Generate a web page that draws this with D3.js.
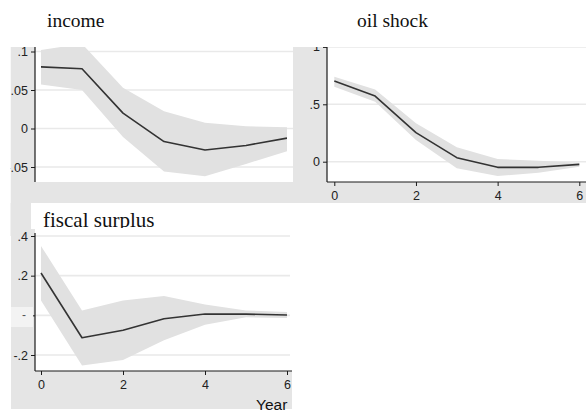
<!DOCTYPE html>
<html>
<head>
<meta charset="utf-8">
<script src="https://cdn.jsdelivr.net/npm/d3@7"></script>
<style>
  html, body { margin: 0; padding: 0; background: #ffffff; }
  svg { display: block; }
</style>
</head>
<body>
<svg id="chart" width="586" height="415"></svg>
<script>
// ---- data ----
const periods = [0, 1, 2, 3, 4, 5, 6];

const incomeIRF   = [0.080, 0.0775, 0.020, -0.017, -0.028, -0.022, -0.0125];
const incomeUpper = [0.102, 0.110, 0.053, 0.0225, 0.0075, 0.003, 0.0017];
const incomeLower = [0.057, 0.050, -0.011, -0.056, -0.062, -0.046, -0.0295];

const oilIRF   = [0.703, 0.572, 0.253, 0.035, -0.049, -0.049, -0.023];
const oilUpper = [0.740, 0.630, 0.334, 0.125, 0.023, 0.009, -0.009];
const oilLower = [0.653, 0.523, 0.189, -0.058, -0.125, -0.096, -0.044];

const fiscalIRF   = [0.2135, -0.113, -0.075, -0.017, 0.007, 0.006, 0.002];
const fiscalUpper = [0.350, 0.025, 0.075, 0.097, 0.055, 0.025, 0.017];
const fiscalLower = [0.075, -0.253, -0.225, -0.125, -0.047, -0.010, -0.013];

const incomeYTicks = [-0.05, 0, 0.05, 0.1];
const incomeYLabels = ["-.05", "0", ".05", ".1"];
const oilYTicks = [0, 0.5, 1];
const oilYLabels = ["0", ".5", "1"];
const fiscalYTicks = [-0.2, 0, 0.2, 0.4];
const fiscalYLabels = ["-.2", "", ".2", ".4"];
const xTicks = [0, 2, 4, 6];
const xTickLabels = ["0", "2", "4", "6"];

const titles = ["income", "oil shock", "fiscal surplus"];
const xAxisTitle = "Year";

// ---- styles ----
const GRAY = "#e5e5e5";
const BAND = "#e1e1e1";
const GRID = "#e9e9e9";
const LINE = "#333333";
const AXIS = "#1a1a1a";
const SANS = "'Liberation Sans', Arial, sans-serif";
const SERIF = "'Liberation Serif', 'Times New Roman', serif";

const svg = d3.select("#chart");
const defs = svg.append("defs");

function clip(id, x, y, w, h) {
  defs.append("clipPath").attr("id", id)
    .append("rect").attr("x", x).attr("y", y).attr("width", w).attr("height", h);
  return "url(#" + id + ")";
}

function drawPanel(o) {
  const g = svg.append("g").attr("clip-path", clip(o.id, o.clip[0], o.clip[1], o.clip[2], o.clip[3]));
  o.grayRects.forEach(r => g.append("rect").attr("x", r[0]).attr("y", r[1]).attr("width", r[2]).attr("height", r[3]).attr("fill", GRAY));
  g.append("rect").attr("x", o.plot[0]).attr("y", o.plot[1]).attr("width", o.plot[2]).attr("height", o.plot[3]).attr("fill", "#fff");

  const x = d3.scaleLinear().domain([0, 6]).range(o.xr);
  const y = d3.scaleLinear().domain(o.yd).range(o.yr);

  g.append("g").selectAll("line").data(o.yTicks).join("line")
    .attr("x1", o.plot[0]).attr("x2", o.plot[0] + o.plot[2] - (o.gridInset || 0))
    .attr("y1", d => y(d)).attr("y2", d => y(d))
    .attr("stroke", GRID).attr("stroke-width", 1.6);

  const area = d3.area().x((d, i) => x(periods[i])).y0((d, i) => y(o.lower[i])).y1((d, i) => y(o.upper[i]));
  g.append("path").datum(o.irf).attr("d", area).attr("fill", BAND);

  const line = d3.line().x((d, i) => x(periods[i])).y(d => y(d));
  g.append("path").datum(o.irf).attr("d", line).attr("fill", "none")
    .attr("stroke", LINE).attr("stroke-width", 1.6).attr("stroke-linejoin", "round");

  const yAxis = d3.axisLeft(y).tickValues(o.yTicks).tickSize(4).tickPadding(3)
    .tickFormat((d, i) => o.yLabels[i]);
  const ya = g.append("g").attr("transform", "translate(" + o.plot[0] + ",0)").call(yAxis);
  ya.select(".domain").attr("d", "M0," + o.yAxisSpan[0] + "V" + o.yAxisSpan[1]).attr("stroke", AXIS).attr("stroke-width", 1.2);
  ya.selectAll(".tick line").attr("stroke", AXIS).attr("stroke-width", 1);
  ya.selectAll(".tick text").attr("font-family", SANS).attr("font-size", 12.5).attr("fill", "#222");

  if (o.xAxis) {
    const xAxis = d3.axisBottom(x).tickValues(xTicks).tickSize(4).tickPadding(5)
      .tickFormat((d, i) => xTickLabels[i]);
    const xa = g.append("g").attr("transform", "translate(0," + o.xAxisY + ")").call(xAxis);
    xa.select(".domain").attr("d", "M" + o.plot[0] + ",0H" + (o.plot[0] + o.plot[2])).attr("stroke", AXIS).attr("stroke-width", 1.2);
    xa.selectAll(".tick line").attr("stroke", AXIS).attr("stroke-width", 1);
    xa.selectAll(".tick text").attr("font-family", SANS).attr("font-size", 12.5).attr("fill", "#222");
  }
  return { g, x, y };
}

// income panel
drawPanel({
  id: "cIncome", clip: [10.5, 47, 282.5, 156],
  grayRects: [[10.5, 47, 283, 156]],
  plot: [35, 47, 258, 135],
  xr: [41, 287], yd: [-0.05, 0.1], yr: [167, 51.5],
  yTicks: incomeYTicks, yLabels: incomeYLabels,
  irf: incomeIRF, upper: incomeUpper, lower: incomeLower,
  yAxisSpan: [47, 182], xAxis: false
});

// oil shock panel
drawPanel({
  id: "cOil", clip: [293, 47, 293, 156],
  grayRects: [[293, 47, 293, 156]],
  plot: [327, 47, 259, 135],
  xr: [334.3, 579.3], yd: [0, 1], yr: [161.7, 46.9],
  yTicks: oilYTicks, yLabels: oilYLabels,
  irf: oilIRF, upper: oilUpper, lower: oilLower,
  yAxisSpan: [47, 182], xAxis: true, xAxisY: 182
});

// connecting strip between the left panels
svg.append("rect").attr("x", 10.5).attr("y", 203).attr("width", 20.5).attr("height", 33).attr("fill", GRAY);

// fiscal surplus panel
const fp = drawPanel({
  id: "cFiscal", clip: [11, 229, 281, 184],
  grayRects: [[11, 229, 281, 180]],
  plot: [35, 229, 257, 142],
  gridInset: 2,
  xr: [41, 287], yd: [-0.2, 0.4], yr: [355, 236],
  yTicks: fiscalYTicks, yLabels: fiscalYLabels,
  irf: fiscalIRF, upper: fiscalUpper, lower: fiscalLower,
  yAxisSpan: [233, 371], xAxis: true, xAxisY: 371
});
fp.g.append("rect").attr("x", 11).attr("y", 307).attr("width", 22).attr("height", 20).attr("fill", "#f3f3f3");
fp.g.append("text").attr("x", 24).attr("y", 319).attr("text-anchor", "middle")
  .attr("font-family", SANS).attr("font-size", 12).attr("fill", "#555").text("-");
fp.g.append("text").attr("x", 256).attr("y", 410)
  .attr("font-family", SANS).attr("font-size", 15.5).attr("fill", "#111").text(xAxisTitle);

// panel titles
svg.append("text").attr("x", 47).attr("y", 27).attr("font-family", SERIF).attr("font-size", 19.5).attr("fill", "#111").text(titles[0]);
svg.append("text").attr("x", 357).attr("y", 27).attr("font-family", SERIF).attr("font-size", 19.5).attr("fill", "#111").text(titles[1]);
defs.append("clipPath").attr("id", "cTitle3").append("rect").attr("x", 31).attr("y", 203).attr("width", 262).attr("height", 25);
svg.append("text").attr("x", 43).attr("y", 227).attr("clip-path", "url(#cTitle3)")
  .attr("font-family", SERIF).attr("font-size", 21).attr("fill", "#111").text(titles[2]);
</script>
</body>
</html>
